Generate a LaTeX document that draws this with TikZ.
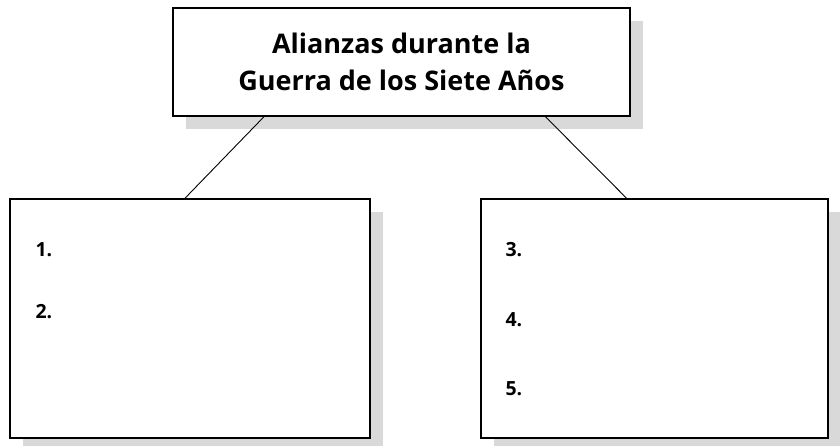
\documentclass[tikz,border=0pt]{standalone}
\usepackage{fontspec}
\setmainfont{Open Sans}
\usetikzlibrary{positioning,calc,shadows}

\begin{document}
\begin{tikzpicture}[x=1pt,y=-1pt,
  box/.style={draw, fill=white, line width=1.4pt, inner sep=0pt,
    general shadow={fill=black!15, shadow xshift=13pt, shadow yshift=-13pt}},
  num/.style={anchor=west, font=\bfseries\fontsize{19.5}{22}\selectfont}
]
\useasboundingbox (0,0) rectangle (840,445);

\node[box, minimum width=457pt, minimum height=108pt, align=center,
  font=\bfseries\fontsize{27}{37}\selectfont] (title) at (401.5,62)
  {Alianzas durante la\\Guerra de los Siete Años};
\node[box, minimum width=360pt, minimum height=239pt] (left) at (190,318.5) {};
\node[box, minimum width=347pt, minimum height=239pt] (right) at (654.5,318.5) {};

\node[num] (n1) at (32,250) {1.};
\node[num] (n2) at (32,312) {2.};
\node[num] (n3) at (502,250) {3.};
\node[num] (n4) at (502,320) {4.};
\node[num] (n5) at (502,389) {5.};

\draw[line width=0.9pt] ($(title.south west)!0.2!(title.south east)$) -- ($(left.north west)!0.486!(left.north east)$);
\draw[line width=0.9pt] ($(title.south west)!0.814!(title.south east)$) -- ($(right.north west)!0.42!(right.north east)$);
\end{tikzpicture}
\end{document}
